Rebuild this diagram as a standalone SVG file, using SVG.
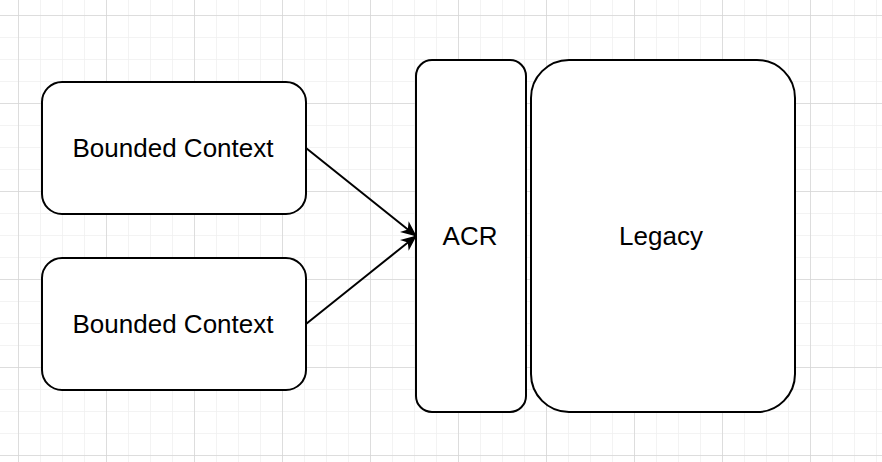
<svg xmlns="http://www.w3.org/2000/svg" width="882" height="462" viewBox="0 0 882 462">
  <defs>
    <pattern id="minor" width="22" height="22" patternUnits="userSpaceOnUse" x="18" y="15">
      <path d="M0 0H22M0 0V22" fill="none" stroke="#f0f0f0" stroke-width="1.5"/>
    </pattern>
    <pattern id="major" width="88" height="88" patternUnits="userSpaceOnUse" x="18" y="15">
      <path d="M0 0H88M0 0V88" fill="none" stroke="#d6d6d6" stroke-width="1.5"/>
    </pattern>
    <marker id="arrow" viewBox="0 0 16 14" refX="15" refY="7" markerWidth="16" markerHeight="14" markerUnits="userSpaceOnUse" orient="auto">
      <path d="M0 0L16 7L0 14L4.5 7Z" fill="#000"/>
    </marker>
  </defs>
  <style>
    .box { fill: #fff; stroke: #000; stroke-width: 2; }
    .lbl { font-family: "Liberation Sans", Arial, sans-serif; font-size: 26px; fill: #000; text-anchor: middle; }
    .conn { stroke: #000; stroke-width: 2; fill: none; marker-end: url(#arrow); }
  </style>
  <rect width="882" height="462" fill="#fff"/>
  <rect width="882" height="462" fill="url(#minor)"/>
  <rect width="882" height="462" fill="url(#major)"/>

  <g id="bc1">
    <rect class="box" x="42" y="82" width="264" height="132" rx="20"/>
    <text class="lbl" x="173" y="157">Bounded Context</text>
  </g>
  <g id="bc2">
    <rect class="box" x="42" y="258" width="264" height="132" rx="20"/>
    <text class="lbl" x="173" y="333">Bounded Context</text>
  </g>
  <g id="acr">
    <rect class="box" x="416" y="60" width="110" height="352" rx="16"/>
    <text class="lbl" x="470" y="245">ACR</text>
  </g>
  <g id="legacy">
    <rect class="box" x="531" y="60" width="264" height="352" rx="38"/>
    <text class="lbl" x="661" y="245">Legacy</text>
  </g>
  <g id="connectors">
    <line class="conn" x1="306" y1="148" x2="416" y2="236"/>
    <line class="conn" x1="306" y1="324" x2="416" y2="236"/>
  </g>
</svg>
